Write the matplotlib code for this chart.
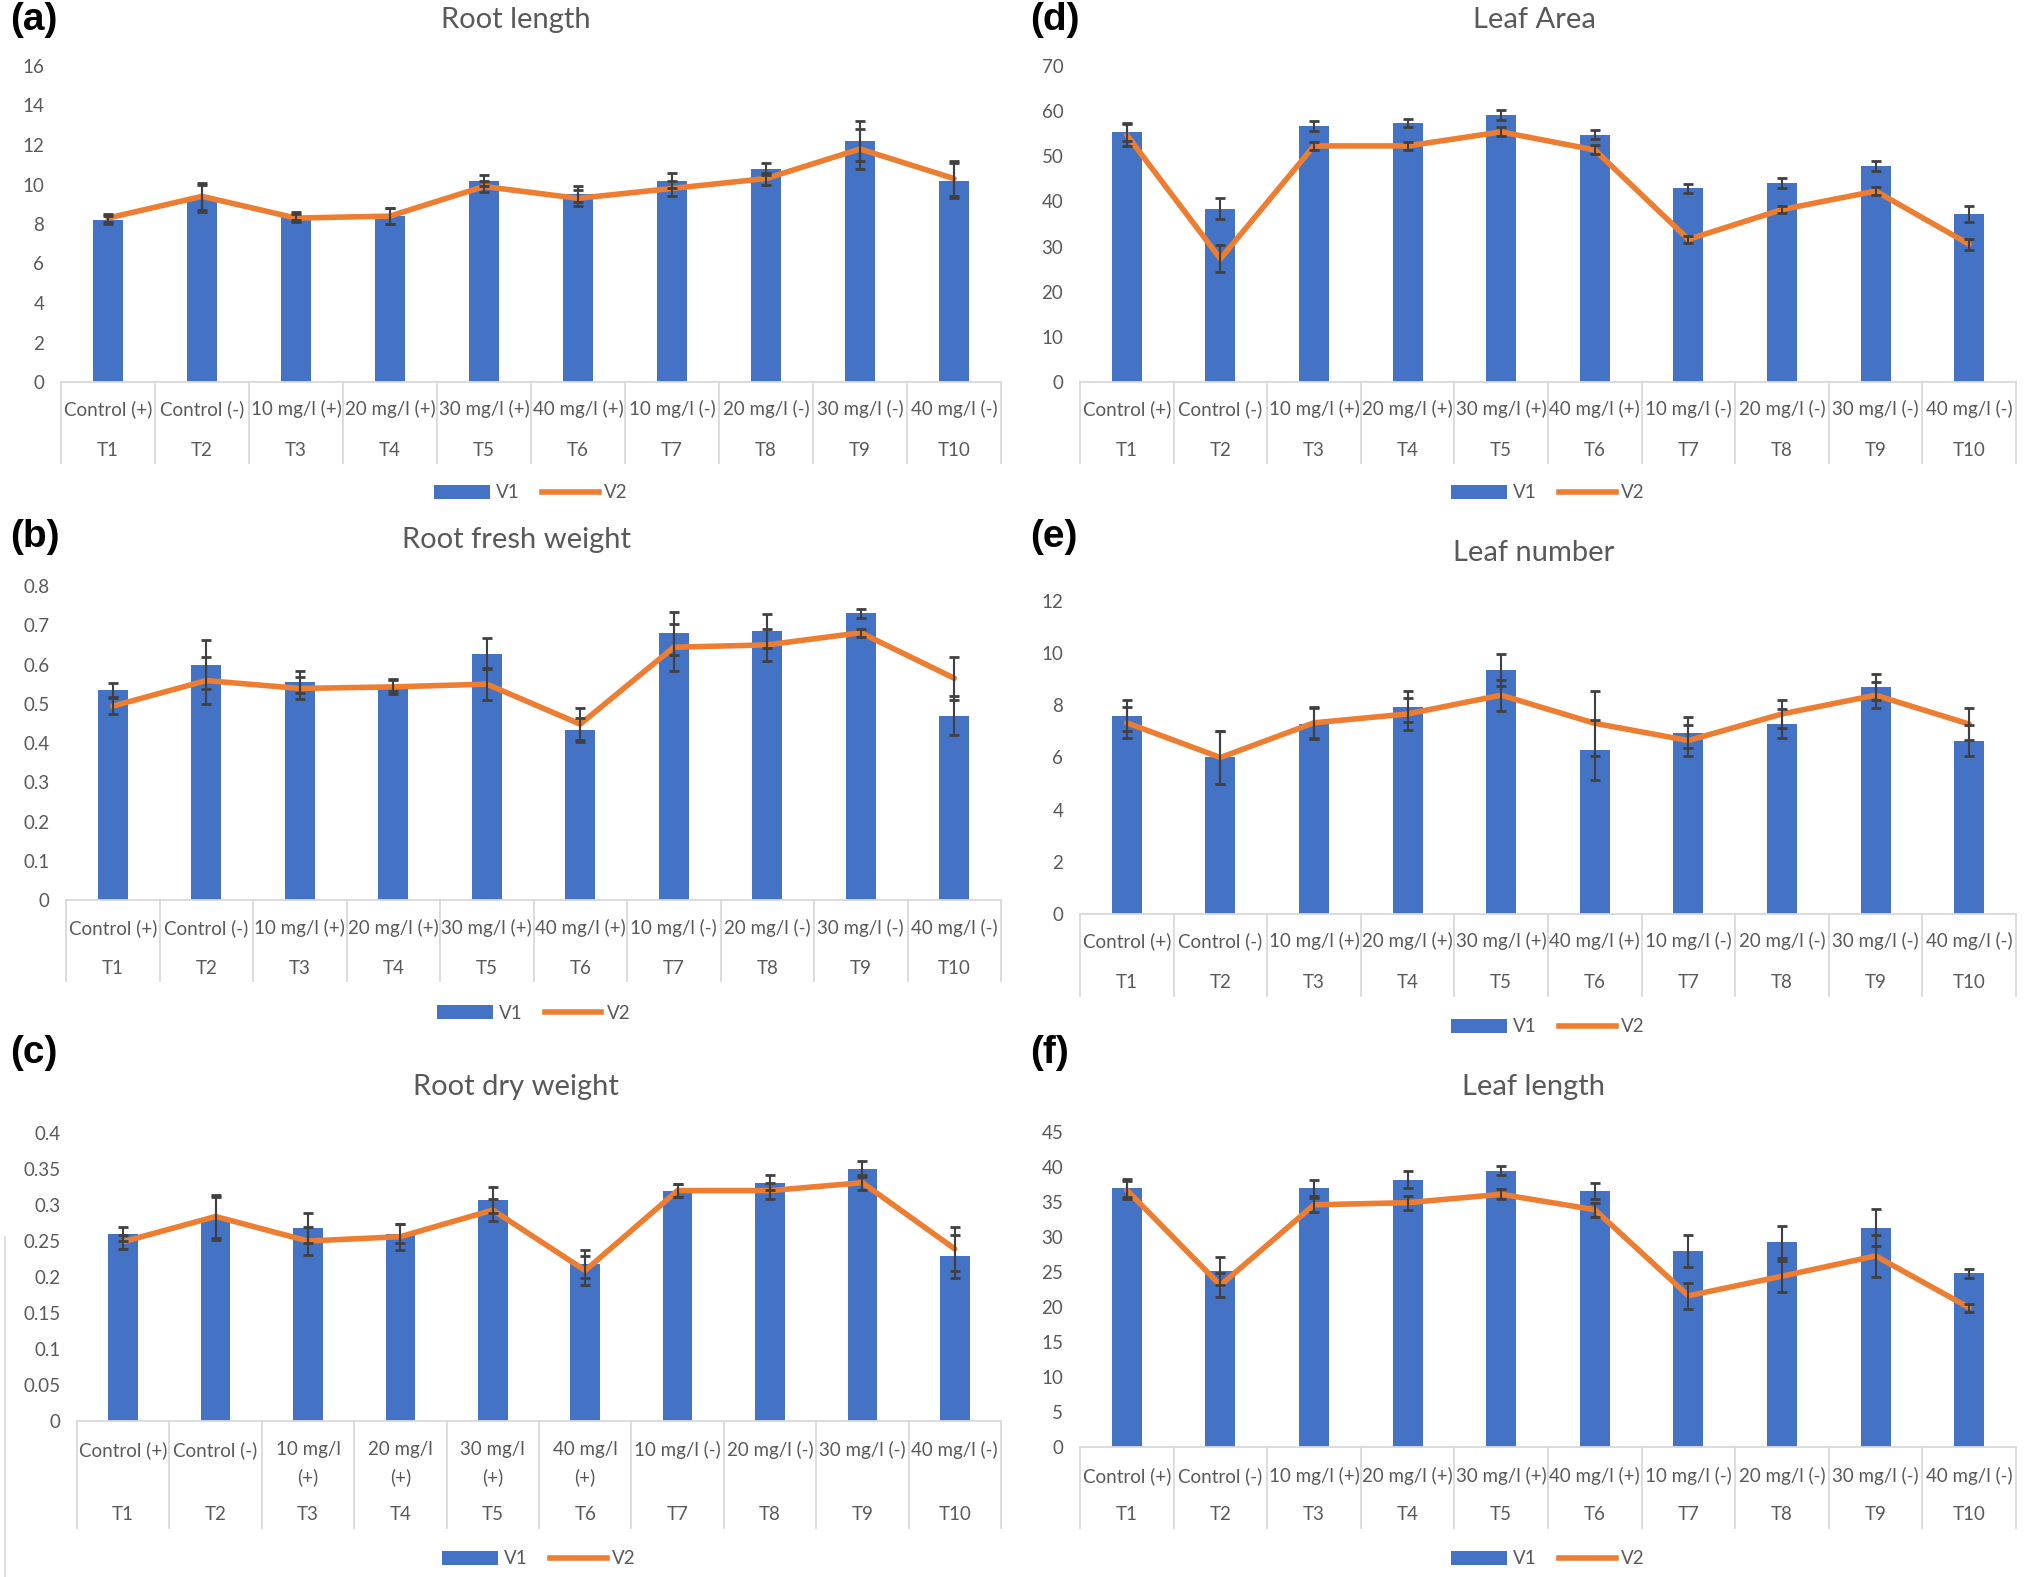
import matplotlib
matplotlib.use('Agg')
import matplotlib.pyplot as plt
import matplotlib.transforms as mtransforms
from matplotlib.ticker import MultipleLocator, FormatStrFormatter
from matplotlib.patches import Patch
from matplotlib.lines import Line2D

plt.rcParams['font.family'] = ['Lato', 'DejaVu Sans']

# categories
cats = ['Control (+)', 'Control (-)', '10 mg/l (+)', '20 mg/l (+)', '30 mg/l (+)',
        '40 mg/l (+)', '10 mg/l (-)', '20 mg/l (-)', '30 mg/l (-)', '40 mg/l (-)']
cats_wrapped = ['Control (+)', 'Control (-)', '10 mg/l\n(+)', '20 mg/l\n(+)', '30 mg/l\n(+)',
                '40 mg/l\n(+)', '10 mg/l (-)', '20 mg/l (-)', '30 mg/l (-)', '40 mg/l (-)']
treatments = ['T1', 'T2', 'T3', 'T4', 'T5', 'T6', 'T7', 'T8', 'T9', 'T10']

# (a) root length
rl_v1 = [8.2, 9.3, 8.4, 8.4, 10.2, 9.5, 10.2, 10.8, 12.2, 10.2]
rl_v2 = [8.3, 9.4, 8.3, 8.4, 9.9, 9.3, 9.8, 10.3, 11.8, 10.3]
rl_e1 = [0.2, 0.7, 0.2, 0.4, 0.3, 0.4, 0.4, 0.3, 1.0, 0.9]
rl_e2 = [0.2, 0.7, 0.2, 0.4, 0.3, 0.4, 0.4, 0.3, 1.0, 0.9]

# (b) root fresh weight
rfw_v1 = [0.535, 0.600, 0.556, 0.548, 0.628, 0.433, 0.679, 0.686, 0.730, 0.470]
rfw_v2 = [0.494, 0.559, 0.539, 0.543, 0.550, 0.448, 0.644, 0.650, 0.681, 0.565]
rfw_e1 = [0.019, 0.062, 0.028, 0.015, 0.040, 0.030, 0.056, 0.043, 0.011, 0.050]
rfw_e2 = [0.020, 0.060, 0.028, 0.018, 0.040, 0.040, 0.060, 0.040, 0.010, 0.055]

# (c) root dry weight
rdw_v1 = [0.260, 0.281, 0.268, 0.260, 0.307, 0.218, 0.320, 0.331, 0.350, 0.229]
rdw_v2 = [0.249, 0.284, 0.250, 0.256, 0.293, 0.209, 0.320, 0.320, 0.331, 0.239]
rdw_e1 = [0.010, 0.030, 0.021, 0.013, 0.018, 0.020, 0.009, 0.010, 0.011, 0.030]
rdw_e2 = [0.010, 0.030, 0.020, 0.018, 0.015, 0.020, 0.009, 0.011, 0.010, 0.031]

# (d) leaf area
la_v1 = [55.4, 38.4, 56.7, 57.3, 59.1, 54.8, 42.9, 44.1, 47.8, 37.2]
la_v2 = [54.7, 27.3, 52.3, 52.3, 55.4, 51.4, 31.6, 38.2, 42.3, 30.5]
la_e1 = [2.0, 2.4, 1.1, 0.9, 1.1, 1.0, 1.0, 1.1, 1.1, 1.7]
la_e2 = [2.5, 3.0, 0.8, 0.8, 1.0, 1.0, 0.8, 0.8, 0.8, 1.2]

# (e) leaf number
ln_v1 = [7.6, 6.0, 7.3, 7.95, 9.35, 6.3, 6.95, 7.3, 8.7, 6.65]
ln_v2 = [7.33, 6.0, 7.33, 7.67, 8.39, 7.31, 6.65, 7.67, 8.39, 7.28]
ln_e1 = [0.6, 1.0, 0.6, 0.6, 0.6, 1.15, 0.6, 0.55, 0.5, 0.6]
ln_e2 = [0.6, 1.0, 0.6, 0.6, 0.6, 1.25, 0.6, 0.55, 0.5, 0.6]

# (f) leaf length
ll_v1 = [37.0, 25.2, 37.0, 38.2, 39.5, 36.6, 28.05, 29.25, 31.35, 24.8]
ll_v2 = [36.7, 23.1, 34.6, 34.9, 36.1, 33.9, 21.6, 24.4, 27.3, 19.9]
ll_e1 = [1.3, 2.0, 1.1, 1.2, 0.7, 1.1, 2.3, 2.3, 2.7, 0.7]
ll_e2 = [1.3, 1.7, 1.0, 1.0, 0.7, 1.0, 1.9, 2.2, 3.0, 0.6]

BLUE = '#4472C4'
ORANGE = '#ED7D31'
GREY_TXT = '#595959'
GREY_LN = '#D9D9D9'
ERR = '#404040'
FS = 13.5

W, H = 2025, 1577
fig = plt.figure(figsize=(W / 100, H / 100), dpi=100)


def panel(box, letter, title, v1, v2, e1, e2, ymax, step, fmt,
          labels=cats, offs=(27, 68, 81, 111), label_xy=(13, 19), title_xy=(516, 19)):
    # box = left, right, zero line y, top y  (pixels)
    left, right, y0, ytop = box
    ax = fig.add_axes([left / W, 1 - y0 / H, (right - left) / W, (y0 - ytop) / H])
    axh = y0 - ytop
    x = list(range(len(v1)))

    ax.bar(x, v1, width=0.32, color=BLUE, zorder=2)
    ax.errorbar(x, v1, yerr=e1, fmt='none', ecolor=ERR, elinewidth=1.5,
                capsize=3.5, capthick=2, zorder=4)
    ax.plot(x, v2, color=ORANGE, lw=4, zorder=3, solid_capstyle='round')
    ax.errorbar(x, v2, yerr=e2, fmt='none', ecolor=ERR, elinewidth=1.5,
                capsize=3.5, capthick=2, zorder=4)

    ax.set_xlim(-0.5, len(v1) - 0.5)
    ax.set_ylim(0, ymax)
    ax.yaxis.set_major_locator(MultipleLocator(step))
    ax.yaxis.set_major_formatter(FormatStrFormatter(fmt))
    ax.tick_params(axis='y', length=0, pad=12, labelsize=FS, labelcolor=GREY_TXT)
    ax.set_xticks([])
    for s in ['top', 'right', 'left']:
        ax.spines[s].set_visible(False)
    ax.spines['bottom'].set_color(GREY_LN)
    ax.spines['bottom'].set_linewidth(1.3)

    # two-level category axis
    trans = mtransforms.blended_transform_factory(ax.transData, ax.transAxes)
    for b in range(len(v1) + 1):
        ax.plot([b - 0.5, b - 0.5], [0, -offs[2] / axh], transform=trans,
                color=GREY_LN, lw=1.3, clip_on=False)
    for i in x:
        for k, line in enumerate(labels[i].split('\n')):
            ax.annotate(line, xy=(i, 0), xycoords=('data', 'axes fraction'),
                        xytext=(0, -offs[0] - 27 * k), textcoords='offset pixels',
                        ha='center', va='center', fontsize=FS, color=GREY_TXT)
        ax.annotate(treatments[i], xy=(i, 0), xycoords=('data', 'axes fraction'),
                    xytext=(0, -offs[1]), textcoords='offset pixels',
                    ha='center', va='center', fontsize=FS, color=GREY_TXT)

    handles = [Patch(facecolor=BLUE, label='V1'),
               Line2D([0], [0], color=ORANGE, lw=4, label='V2')]
    ax.legend(handles=handles, loc='center', bbox_to_anchor=(0.5, -offs[3] / axh),
              ncol=2, frameon=False, fontsize=FS, labelcolor=GREY_TXT,
              handlelength=3.0, handleheight=0.8, handletextpad=0.3, columnspacing=1.2)

    fig.text(label_xy[0] / W, 1 - label_xy[1] / H, letter, fontsize=28,
             fontweight='bold', family=['Liberation Sans', 'DejaVu Sans'],
             ha='left', va='center')
    fig.text(title_xy[0] / W, 1 - title_xy[1] / H, title, fontsize=21,
             color=GREY_TXT, ha='center', va='center')
    return ax


panel((61, 1001, 382, 66), '(a)', 'Root length', rl_v1, rl_v2, rl_e1, rl_e2,
      16, 2, '%g', label_xy=(10, 20), title_xy=(516, 20))
panel((66, 1001, 900, 586), '(b)', 'Root fresh weight', rfw_v1, rfw_v2, rfw_e1, rfw_e2,
      0.8, 0.1, '%g', offs=(28, 68, 81, 113), label_xy=(10, 537), title_xy=(516, 540))
panel((77, 1001, 1421, 1133), '(c)', 'Root dry weight', rdw_v1, rdw_v2, rdw_e1, rdw_e2,
      0.4, 0.05, '%g', labels=cats_wrapped, offs=(29, 94, 107, 138),
      label_xy=(10, 1053), title_xy=(516, 1087))
panel((1080, 2016, 382, 66), '(d)', 'Leaf Area', la_v1, la_v2, la_e1, la_e2,
      70, 10, '%g', label_xy=(1030, 20), title_xy=(1534, 20))
panel((1080, 2016, 914, 601), '(e)', 'Leaf number', ln_v1, ln_v2, ln_e1, ln_e2,
      12, 2, '%g', offs=(27, 69, 82, 113), label_xy=(1030, 537), title_xy=(1534, 553))
panel((1080, 2016, 1447, 1132), '(f)', 'Leaf length', ll_v1, ll_v2, ll_e1, ll_e2,
      45, 5, '%g', offs=(29, 68, 81, 112), label_xy=(1030, 1053), title_xy=(1534, 1087))

# leftover chart border at the left of panel (c)
fig.add_artist(Line2D([5 / W, 5 / W], [0, 1 - 1237 / H], color=GREY_LN, lw=1.2))

fig.savefig('out.png', dpi=100, facecolor='white')
